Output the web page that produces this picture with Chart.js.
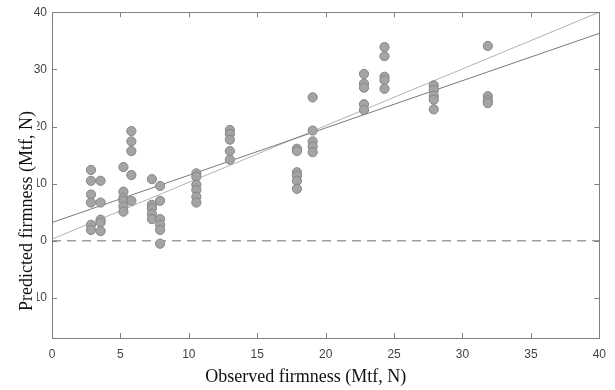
<!DOCTYPE html>
<html>
<head>
<meta charset="utf-8">
<script src="https://cdn.jsdelivr.net/npm/chart.js@4/dist/chart.umd.min.js"></script>
<style>
html,body{margin:0;padding:0;background:#fff;}
#wrap{width:615px;height:390px;position:relative;}
</style>
</head>
<body>
<div id="wrap"><canvas id="c" width="615" height="390"></canvas></div>
<script>
// Observed (x) and predicted (y) firmness values
const observed = [
  2.85,2.85,2.85,2.85,2.85,2.85,
  3.55,3.55,3.55,3.55,3.55,
  5.22,5.22,5.22,5.22,5.22,5.22,
  5.8,5.8,5.8,5.8,5.8,
  7.3,7.3,7.3,7.3,7.3,
  7.9,7.9,7.9,7.9,7.9,7.9,
  10.55,10.55,10.55,10.55,10.55,10.55,
  13.0,13.0,13.0,13.0,13.0,
  17.9,17.9,17.9,17.9,17.9,17.9,
  19.05,19.05,19.05,19.05,19.05,
  22.8,22.8,22.8,22.8,22.8,
  24.3,24.3,24.3,24.3,24.3,
  27.9,27.9,27.9,27.9,27.9,
  31.85,31.85,31.85,31.85
];
const predicted = [
  12.4,10.5,8.1,6.7,2.8,1.9,
  10.5,6.7,3.7,3.2,1.7,
  12.9,8.6,7.5,7.0,6.0,5.1,
  19.2,17.4,15.7,11.5,7.0,
  10.8,6.3,5.7,4.7,3.8,
  9.6,7.0,3.8,2.8,1.9,-0.5,
  11.8,11.2,9.8,8.9,7.7,6.7,
  19.4,18.7,17.7,15.7,14.2,
  16.1,15.7,12.0,11.4,10.5,9.1,
  25.1,19.3,17.4,16.5,15.5,
  29.2,27.5,26.8,23.9,22.9,
  33.9,32.3,28.7,28.1,26.6,
  27.2,26.4,25.4,24.7,23.0,
  34.1,25.3,24.6,24.1
];
// Fitted regression line and 1:1 reference line (end points)
const lineX = [0, 40];
const fitY = [3.2, 36.3];
const identityY = [0.3, 40];
const zeroY = [0, 0];
// Tick values
const xTicks = [0,5,10,15,20,25,30,35,40];
const yTicks = [-10,0,10,20,30,40];
const xTitle = 'Observed firmness (Mtf, N)';
const yTitle = 'Predicted firmness (Mtf, N)';

const pts = observed.map((x,i)=>({x:x,y:predicted[i]}));
const toPts = ys => lineX.map((x,i)=>({x:x,y:ys[i]}));

const AXIS = '#7f7f7f';

const framePlugin = {
  id:'frame',
  afterDraw(chart){
    const ctx = chart.ctx, a = chart.chartArea;
    const xs = chart.scales.x, ys = chart.scales.y;
    ctx.save();
    ctx.strokeStyle = AXIS;
    ctx.lineWidth = 1;
    ctx.strokeRect(Math.round(a.left)+0.5, Math.round(a.top)+0.5, Math.round(a.right-a.left), Math.round(a.bottom-a.top));
    const L = 5;
    ctx.beginPath();
    xs.ticks.forEach(t=>{
      const px = Math.round(xs.getPixelForValue(t.value))+0.5;
      ctx.moveTo(px, a.bottom); ctx.lineTo(px, a.bottom-L);
      ctx.moveTo(px, a.top); ctx.lineTo(px, a.top+L);
    });
    ys.ticks.forEach(t=>{
      const py = Math.round(ys.getPixelForValue(t.value))+0.5;
      ctx.moveTo(a.left, py); ctx.lineTo(a.left+L, py);
      ctx.moveTo(a.right, py); ctx.lineTo(a.right-L, py);
    });
    ctx.stroke();
    // axis titles
    ctx.fillStyle = '#111';
    ctx.font = '18px "Liberation Serif", "Times New Roman", serif';
    ctx.textAlign = 'center';
    ctx.textBaseline = 'middle';
    ctx.fillText(xTitle, (a.left+a.right)/2 - 20, 377);
    ctx.translate(26, 211);
    ctx.rotate(-Math.PI/2);
    const w = ctx.measureText(yTitle).width;
    ctx.fillStyle = '#fff';
    ctx.fillRect(-w/2-4, -12, w+8, 23);
    ctx.fillStyle = '#111';
    ctx.fillText(yTitle, 0, 1);
    ctx.restore();
  }
};

new Chart(document.getElementById('c'), {
  type:'scatter',
  data:{
    datasets:[
      {
        label:'Samples',
        data:pts,
        order:0,
        pointRadius:4.6,
        pointBackgroundColor:'#a4a4a4',
        pointBorderColor:'#858585',
        pointBorderWidth:1,
        showLine:false
      },
      {
        label:'Fit',
        data:toPts(fitY),
        order:1,
        showLine:true,
        borderColor:'#7a7a7a',
        borderWidth:1,
        pointRadius:0
      },
      {
        label:'1:1',
        data:toPts(identityY),
        order:2,
        showLine:true,
        borderColor:'#b2b2b2',
        borderWidth:1,
        pointRadius:0
      },
      {
        label:'Zero',
        data:toPts(zeroY),
        order:3,
        showLine:true,
        borderColor:'#6f6f6f',
        borderWidth:1,
        borderDash:[9,6],
        pointRadius:0
      }
    ]
  },
  options:{
    responsive:false,
    animation:false,
    layout:{padding:{top:12,right:13,left:0,bottom:0}},
    plugins:{legend:{display:false},tooltip:{enabled:false}},
    scales:{
      x:{
        type:'linear', min:0, max:40,
        afterBuildTicks(s){ s.ticks = xTicks.map(v=>({value:v})); },
        afterFit(s){ s.height = 52; },
        grid:{display:false, drawTicks:false, tickLength:0},
        border:{display:false},
        ticks:{padding:9, color:'#444', font:{family:'"Liberation Sans", Arial, sans-serif', size:12}, maxRotation:0}
      },
      y:{
        type:'linear', min:-17, max:40,
        afterBuildTicks(s){ s.ticks = yTicks.map(v=>({value:v})); },
        afterFit(s){ s.width = 52; },
        grid:{display:false, drawTicks:false, tickLength:0},
        border:{display:false},
        ticks:{padding:5, color:'#444', font:{family:'"Liberation Sans", Arial, sans-serif', size:12}}
      }
    }
  },
  plugins:[framePlugin]
});
</script>
</body>
</html>
